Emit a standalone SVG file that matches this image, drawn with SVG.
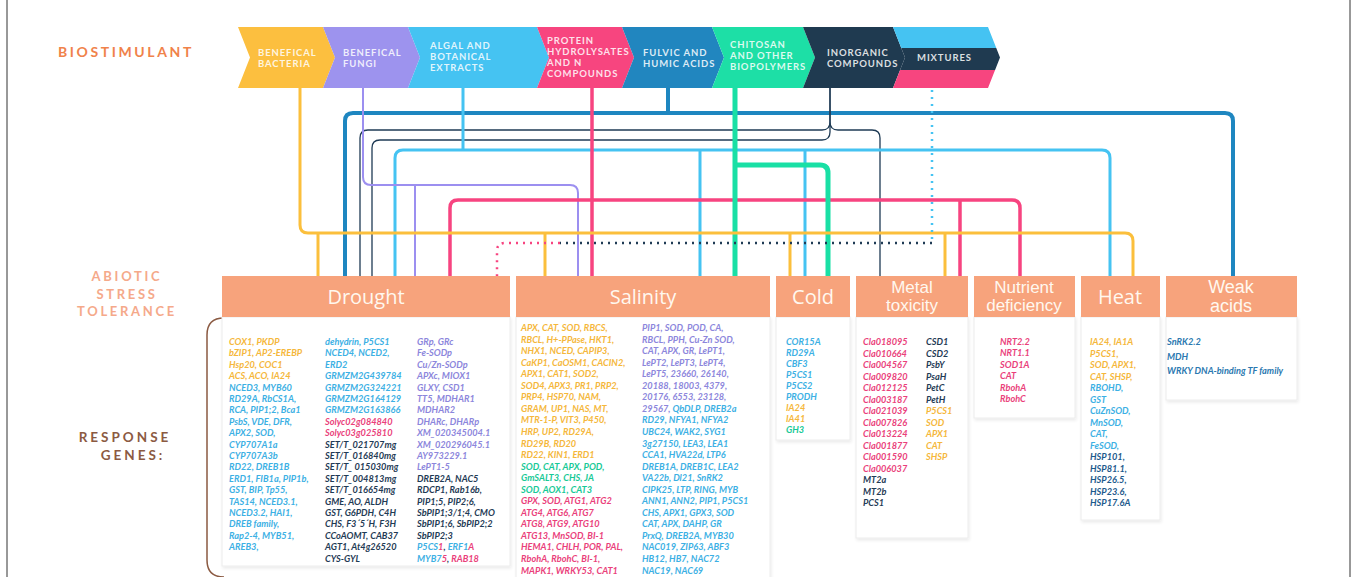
<svg xmlns="http://www.w3.org/2000/svg" width="1358" height="577" viewBox="0 0 1358 577">
<style>
.ban{font-family:Lato,"Open Sans",sans-serif;font-weight:700;font-size:9.5px;letter-spacing:0.9px;fill:#fff;fill-opacity:.85}
.hd{font-family:"Open Sans","Liberation Sans",sans-serif;font-size:20px;fill:#fff8ef;text-anchor:middle}
.hd2{font-family:"Liberation Sans",Arial,sans-serif;font-size:17px;fill:#fff8ef;text-anchor:middle}
.lab{font-family:Lato,"Open Sans",sans-serif;font-weight:700;letter-spacing:2.4px;text-anchor:middle}
.g{font-family:Lato,"Open Sans",sans-serif;font-weight:700;font-style:italic;font-size:9.2px}
.y{fill:#f5b73b}.lb{fill:#3cb0e4}.pk{fill:#ea3f7b}.nv{fill:#1f3b55}.pu{fill:#8c86dc}.tl{fill:#17c996}.db{fill:#1d5a8c}
.hbox{fill:#f7a37c}
.panel{fill:#fff;stroke:#ececec;stroke-width:1}
.c{fill:none;stroke-linecap:butt;stroke-linejoin:round}
</style>
<defs>
<clipPath id="mixclip"><polygon points="893,27 988,27 1000,57.5 988,88 893,88 905,57.5"/></clipPath>
<filter id="sh" x="-5%" y="-5%" width="110%" height="110%"><feDropShadow dx="1" dy="2" stdDeviation="1.5" flood-color="#000" flood-opacity="0.08"/></filter>
</defs>
<rect x="0" y="0" width="1358" height="577" fill="#fff"/>
<line x1="7" y1="0" x2="7" y2="577" stroke="#333" stroke-width="1"/>
<line x1="1350" y1="0" x2="1350" y2="577" stroke="#333" stroke-width="1"/>

<g id="biostimulant-label"><text x="58" y="57" class="lab" style="text-anchor:start;font-size:14px;letter-spacing:2.6px;fill:#f0824a">BIOSTIMULANT</text></g>
<g id="abiotic-label">
<text x="127" y="281" class="lab" style="font-size:13px;letter-spacing:2.7px;fill:#f5a98a">ABIOTIC</text>
<text x="127" y="299" class="lab" style="font-size:13px;letter-spacing:2.7px;fill:#f5a98a">STRESS</text>
<text x="127" y="316" class="lab" style="font-size:13px;letter-spacing:2.7px;fill:#f5a98a">TOLERANCE</text>
</g>
<g id="response-label">
<text x="125" y="442" class="lab" style="font-size:13.5px;letter-spacing:3px;fill:#8b5a42">RESPONSE</text>
<text x="133" y="460" class="lab" style="font-size:13.5px;letter-spacing:3px;fill:#8b5a42">GENES:</text>
<path d="M224,318 Q207,318 207,335 V560 Q207,577 224,577" fill="none" stroke="#8b5a42" stroke-width="1.5"/>
</g>

<g id="connectors">
<path class="c" stroke="#1e86c0" stroke-width="4" d="M668,88 V113 M345,276 V121 Q345,113 353,113 H1225 Q1233,113 1233,121 V276"/>
<path class="c" stroke="#1f3b55" stroke-width="1.3" d="M830,88 V122 Q830,130 822,130 H368 Q360,130 360,138 V276 M830,122 Q830,130 838,130 H872 Q880,130 880,138 V276"/>
<path class="c" stroke="#1f3b55" stroke-width="1.3" d="M830,88 V132 Q830,140 822,140 H380 Q372,140 372,148 V276"/>
<path class="c" stroke="#45c3f2" stroke-width="3" d="M463,88 V150 M395,276 V158 Q395,150 403,150 H1102 Q1110,150 1110,158 V276 M700,150 V276 M805,150 V276"/>
<path class="c" stroke="#9c8ff0" stroke-width="2" d="M363,88 V177 Q363,185 371,185 H570 Q578,185 578,193 V276 M415,185 V276"/>
<path class="c" stroke="#f74480" stroke-width="3.5" d="M592,88 V276 M450,276 V208 Q450,200 458,200 H1012 Q1020,200 1020,208 V276 M960,200 V276"/>
<path class="c" stroke="#19e0a5" stroke-width="5" d="M735,88 V276 M735,165 H820 Q828,165 828,173 V276"/>
<path class="c" stroke="#fbbf3c" stroke-width="3" d="M300,88 V225 Q300,233 308,233 H1125 Q1133,233 1133,241 V276 M318,233 V276 M545,233 V276 M790,233 V276 M945,233 V276"/>
<path class="c" stroke="#45c3f2" stroke-width="2.5" stroke-dasharray="2 5" d="M932,90 V243"/>
<path class="c" stroke="#1f3b55" stroke-width="2.5" stroke-dasharray="2 5" d="M932,243 H560"/>
<path class="c" stroke="#f74480" stroke-width="2.5" stroke-dasharray="2 5" d="M560,243 H505 Q497,243 497,251 V276"/>
</g>

<g id="banner">
<polygon points="238,27 323,27 335,57.5 323,88 238,88 250,57.5" fill="#fcbf3f"/>
<polygon points="323,27 408,27 420,57.5 408,88 323,88 335,57.5" fill="#9d93ee"/>
<polygon points="408,27 537,27 549,57.5 537,88 408,88 420,57.5" fill="#45c3f2"/>
<polygon points="537,27 622,27 634,57.5 622,88 537,88 549,57.5" fill="#f7457f"/>
<polygon points="622,27 712,27 724,57.5 712,88 622,88 634,57.5" fill="#2186bf"/>
<polygon points="712,27 803,27 815,57.5 803,88 712,88 724,57.5" fill="#1ddfa6"/>
<polygon points="803,27 893,27 905,57.5 893,88 803,88 815,57.5" fill="#1f3a50"/>
<g clip-path="url(#mixclip)">
<rect x="890" y="27" width="115" height="21" fill="#45c3f2"/>
<rect x="890" y="48" width="115" height="22" fill="#1f3a50"/>
<rect x="890" y="70" width="115" height="18" fill="#f7457f"/>
</g>
<text class="ban"><tspan x="258" y="56">BENEFICAL</tspan><tspan x="258" y="67">BACTERIA</tspan></text>
<text class="ban"><tspan x="343" y="56">BENEFICAL</tspan><tspan x="343" y="67">FUNGI</tspan></text>
<text class="ban"><tspan x="430" y="49">ALGAL AND</tspan><tspan x="430" y="60">BOTANICAL</tspan><tspan x="430" y="71">EXTRACTS</tspan></text>
<text class="ban"><tspan x="547" y="44">PROTEIN</tspan><tspan x="547" y="55">HYDROLYSATES</tspan><tspan x="547" y="66">AND N</tspan><tspan x="547" y="77">COMPOUNDS</tspan></text>
<text class="ban"><tspan x="643" y="56">FULVIC AND</tspan><tspan x="643" y="67">HUMIC ACIDS</tspan></text>
<text class="ban"><tspan x="730" y="48">CHITOSAN</tspan><tspan x="730" y="59">AND OTHER</tspan><tspan x="730" y="70">BIOPOLYMERS</tspan></text>
<text class="ban"><tspan x="827" y="56">INORGANIC</tspan><tspan x="827" y="67">COMPOUNDS</tspan></text>
<text class="ban"><tspan x="917" y="61">MIXTURES</tspan></text>
</g>

<g id="drought">
<rect class="panel" x="222" y="317" width="288" height="249" filter="url(#sh)"/>
<rect class="hbox" x="222" y="276" width="288" height="41"/>
<text class="hd" x="366" y="304">Drought</text>
<text class="g">
<tspan x="229" y="345" class="y">COX1, PKDP</tspan>
<tspan x="229" dy="11.4" class="y">bZIP1, AP2-EREBP</tspan>
<tspan x="229" dy="11.4" class="y">Hsp20, COC1</tspan>
<tspan x="229" dy="11.4" class="y">ACS, ACO, IA24</tspan>
<tspan x="229" dy="11.4" class="lb">NCED3, MYB60</tspan>
<tspan x="229" dy="11.4" class="lb">RD29A, RbCS1A,</tspan>
<tspan x="229" dy="11.4" class="lb">RCA, PIP1;2, Bca1</tspan>
<tspan x="229" dy="11.4" class="lb">PsbS, VDE, DFR,</tspan>
<tspan x="229" dy="11.4" class="lb">APX2, SOD,</tspan>
<tspan x="229" dy="11.4" class="lb">CYP707A1a</tspan>
<tspan x="229" dy="11.4" class="lb">CYP707A3b</tspan>
<tspan x="229" dy="11.4" class="lb">RD22, DREB1B</tspan>
<tspan x="229" dy="11.4" class="lb">ERD1, FIB1a, PIP1b,</tspan>
<tspan x="229" dy="11.4" class="lb">GST, BIP, Tp55,</tspan>
<tspan x="229" dy="11.4" class="lb">TAS14, NCED3.1,</tspan>
<tspan x="229" dy="11.4" class="lb">NCED3.2, HAI1,</tspan>
<tspan x="229" dy="11.4" class="lb">DREB family,</tspan>
<tspan x="229" dy="11.4" class="lb">Rap2-4, MYB51,</tspan>
<tspan x="229" dy="11.4" class="lb">AREB3,</tspan>
</text>
<text class="g">
<tspan x="325" y="345" class="lb">dehydrin, P5CS1</tspan>
<tspan x="325" dy="11.4" class="lb">NCED4, NCED2,</tspan>
<tspan x="325" dy="11.4" class="lb">ERD2</tspan>
<tspan x="325" dy="11.4" class="lb">GRMZM2G439784</tspan>
<tspan x="325" dy="11.4" class="lb">GRMZM2G324221</tspan>
<tspan x="325" dy="11.4" class="lb">GRMZM2G164129</tspan>
<tspan x="325" dy="11.4" class="lb">GRMZM2G163866</tspan>
<tspan x="325" dy="11.4" class="pk">Solyc02g084840</tspan>
<tspan x="325" dy="11.4" class="pk">Solyc03g025810</tspan>
<tspan x="325" dy="11.4" class="nv">SET/T_021707mg</tspan>
<tspan x="325" dy="11.4" class="nv">SET/T_016840mg</tspan>
<tspan x="325" dy="11.4" class="nv">SET/T_ 015030mg</tspan>
<tspan x="325" dy="11.4" class="nv">SET/T_004813mg</tspan>
<tspan x="325" dy="11.4" class="nv">SET/T_016654mg</tspan>
<tspan x="325" dy="11.4" class="nv">GME, AO, ALDH</tspan>
<tspan x="325" dy="11.4" class="nv">GST, G6PDH, C4H</tspan>
<tspan x="325" dy="11.4" class="nv">CHS, F3´5´H, F3H</tspan>
<tspan x="325" dy="11.4" class="nv">CCoAOMT, CAB37</tspan>
<tspan x="325" dy="11.4" class="nv">AGT1, At4g26520</tspan>
<tspan x="325" dy="11.4" class="nv">CYS-GYL</tspan>
</text>
<text class="g">
<tspan x="417" y="345" class="pu">GRp, GRc</tspan>
<tspan x="417" dy="11.4" class="pu">Fe-SODp</tspan>
<tspan x="417" dy="11.4" class="pu">Cu/Zn-SODp</tspan>
<tspan x="417" dy="11.4" class="pu">APXc, MIOX1</tspan>
<tspan x="417" dy="11.4" class="pu">GLXY, CSD1</tspan>
<tspan x="417" dy="11.4" class="pu">TT5, MDHAR1</tspan>
<tspan x="417" dy="11.4" class="pu">MDHAR2</tspan>
<tspan x="417" dy="11.4" class="pu">DHARc, DHARp</tspan>
<tspan x="417" dy="11.4" class="pu">XM_020345004.1</tspan>
<tspan x="417" dy="11.4" class="pu">XM_020296045.1</tspan>
<tspan x="417" dy="11.4" class="pu">AY973229.1</tspan>
<tspan x="417" dy="11.4" class="pu">LePT1-5</tspan>
<tspan x="417" dy="11.4" class="nv">DREB2A, NAC5</tspan>
<tspan x="417" dy="11.4" class="nv">RDCP1, Rab16b,</tspan>
<tspan x="417" dy="11.4" class="nv">PIP1;5, PIP2;6,</tspan>
<tspan x="417" dy="11.4" class="nv">SbPIP1;3/1;4, CMO</tspan>
<tspan x="417" dy="11.4" class="nv">SbPIP1;6, SbPIP2;2</tspan>
<tspan x="417" dy="11.4" class="nv">SbPIP2;3</tspan>
</text>
<text class="g" x="417" y="550.2"><tspan class="lb">P5CS</tspan><tspan class="pk">1</tspan><tspan class="nv">, </tspan><tspan class="lb">ERF1</tspan><tspan class="pk">A</tspan></text>
<text class="g" x="417" y="561.6"><tspan class="lb">MYB7</tspan><tspan class="pk">5</tspan><tspan class="nv">, </tspan><tspan class="pk">RAB18</tspan></text>
</g>

<g id="salinity">
<rect class="panel" x="516" y="317" width="254" height="265" filter="url(#sh)"/>
<rect class="hbox" x="516" y="276" width="254" height="41"/>
<text class="hd" x="643" y="304">Salinity</text>
<text class="g">
<tspan x="521" y="331" class="y">APX, CAT, SOD, RBCS,</tspan>
<tspan x="521" dy="11.55" class="y">RBCL, H+-PPase, HKT1,</tspan>
<tspan x="521" dy="11.55" class="y">NHX1, NCED, CAPIP3,</tspan>
<tspan x="521" dy="11.55" class="y">CaKP1, CaOSM1, CACIN2,</tspan>
<tspan x="521" dy="11.55" class="y">APX1, CAT1, SOD2,</tspan>
<tspan x="521" dy="11.55" class="y">SOD4, APX3, PR1, PRP2,</tspan>
<tspan x="521" dy="11.55" class="y">PRP4, HSP70, NAM,</tspan>
<tspan x="521" dy="11.55" class="y">GRAM, UP1, NAS, MT,</tspan>
<tspan x="521" dy="11.55" class="y">MTR-1-P, VIT3, P450,</tspan>
<tspan x="521" dy="11.55" class="y">HRP, UP2, RD29A,</tspan>
<tspan x="521" dy="11.55" class="y">RD29B, RD20</tspan>
<tspan x="521" dy="11.55" class="y">RD22, KIN1, ERD1</tspan>
<tspan x="521" dy="11.55" class="tl">SOD, CAT, APX, POD,</tspan>
<tspan x="521" dy="11.55" class="tl">GmSALT3, CHS, JA</tspan>
<tspan x="521" dy="11.55" class="tl">SOD, AOX1, CAT3</tspan>
<tspan x="521" dy="11.55" class="pk">GPX, SOD, ATG1, ATG2</tspan>
<tspan x="521" dy="11.55" class="pk">ATG4, ATG6, ATG7</tspan>
<tspan x="521" dy="11.55" class="pk">ATG8, ATG9, ATG10</tspan>
<tspan x="521" dy="11.55" class="pk">ATG13, MnSOD, BI-1</tspan>
<tspan x="521" dy="11.55" class="pk">HEMA1, CHLH, POR, PAL,</tspan>
<tspan x="521" dy="11.55" class="pk">RbohA, RbohC, BI-1,</tspan>
<tspan x="521" dy="11.55" class="pk">MAPK1, WRKY53, CAT1</tspan>
</text>
<text class="g">
<tspan x="642" y="331" class="pu">PIP1, SOD, POD, CA,</tspan>
<tspan x="642" dy="11.55" class="pu">RBCL, PPH, Cu-Zn SOD,</tspan>
<tspan x="642" dy="11.55" class="pu">CAT, APX, GR, LePT1,</tspan>
<tspan x="642" dy="11.55" class="pu">LePT2, LePT3, LePT4,</tspan>
<tspan x="642" dy="11.55" class="pu">LePT5, 23660, 26140,</tspan>
<tspan x="642" dy="11.55" class="pu">20188, 18003, 4379,</tspan>
<tspan x="642" dy="11.55" class="pu">20176, 6553, 23128,</tspan>
<tspan x="642" dy="11.55" class="pu">29567, <tspan class="lb">QbDLP, DREB2a</tspan></tspan>
<tspan x="642" dy="11.55" class="lb">RD29, NFYA1, NFYA2</tspan>
<tspan x="642" dy="11.55" class="lb">UBC24, WAK2, SYG1</tspan>
<tspan x="642" dy="11.55" class="lb">3g27150, LEA3, LEA1</tspan>
<tspan x="642" dy="11.55" class="lb">CCA1, HVA22d, LTP6</tspan>
<tspan x="642" dy="11.55" class="lb">DREB1A, DREB1C, LEA2</tspan>
<tspan x="642" dy="11.55" class="lb">VA22b, Dl21, SnRK2</tspan>
<tspan x="642" dy="11.55" class="lb">CIPK25, LTP, RING, MYB</tspan>
<tspan x="642" dy="11.55" class="lb">ANN1, ANN2, PIP1, P5CS1</tspan>
<tspan x="642" dy="11.55" class="lb">CHS, APX1, GPX3, SOD</tspan>
<tspan x="642" dy="11.55" class="lb">CAT, APX, DAHP, GR</tspan>
<tspan x="642" dy="11.55" class="lb">PrxQ, DREB2A, MYB30</tspan>
<tspan x="642" dy="11.55" class="lb">NAC019, ZIP63, ABF3</tspan>
<tspan x="642" dy="11.55" class="lb">HB12, HB7, NAC72</tspan>
<tspan x="642" dy="11.55" class="lb">NAC19, NAC69</tspan>
</text>
</g>

<g id="cold">
<rect class="panel" x="776" y="317" width="74" height="123" filter="url(#sh)"/>
<rect class="hbox" x="776" y="276" width="74" height="41"/>
<text class="hd" x="813" y="304">Cold</text>
<text class="g">
<tspan x="786" y="345" class="lb">COR15A</tspan>
<tspan x="786" dy="11" class="lb">RD29A</tspan>
<tspan x="786" dy="11" class="lb">CBF3</tspan>
<tspan x="786" dy="11" class="lb">P5CS1</tspan>
<tspan x="786" dy="11" class="lb">P5CS2</tspan>
<tspan x="786" dy="11" class="lb">PRODH</tspan>
<tspan x="786" dy="11" class="y">IA24</tspan>
<tspan x="786" dy="11" class="y">IA41</tspan>
<tspan x="786" dy="11" class="tl">GH3</tspan>
</text>
</g>

<g id="metal">
<rect class="panel" x="856" y="317" width="112" height="221" filter="url(#sh)"/>
<rect class="hbox" x="856" y="276" width="112" height="41"/>
<text class="hd2" x="912" y="293">Metal</text>
<text class="hd2" x="912" y="311">toxicity</text>
<text class="g">
<tspan x="863" y="345" class="pk">Cla018095</tspan>
<tspan x="863" dy="11.5" class="pk">Cla010664</tspan>
<tspan x="863" dy="11.5" class="pk">Cla004567</tspan>
<tspan x="863" dy="11.5" class="pk">Cla009820</tspan>
<tspan x="863" dy="11.5" class="pk">Cla012125</tspan>
<tspan x="863" dy="11.5" class="pk">Cla003187</tspan>
<tspan x="863" dy="11.5" class="pk">Cla021039</tspan>
<tspan x="863" dy="11.5" class="pk">Cla007826</tspan>
<tspan x="863" dy="11.5" class="pk">Cla013224</tspan>
<tspan x="863" dy="11.5" class="pk">Cla001877</tspan>
<tspan x="863" dy="11.5" class="pk">Cla001590</tspan>
<tspan x="863" dy="11.5" class="pk">Cla006037</tspan>
<tspan x="863" dy="11.5" class="nv">MT2a</tspan>
<tspan x="863" dy="11.5" class="nv">MT2b</tspan>
<tspan x="863" dy="11.5" class="nv">PCS1</tspan>
</text>
<text class="g">
<tspan x="926" y="345" class="nv">CSD1</tspan>
<tspan x="926" dy="11.5" class="nv">CSD2</tspan>
<tspan x="926" dy="11.5" class="nv">PsbY</tspan>
<tspan x="926" dy="11.5" class="nv">PsaH</tspan>
<tspan x="926" dy="11.5" class="nv">PetC</tspan>
<tspan x="926" dy="11.5" class="nv">PetH</tspan>
<tspan x="926" dy="11.5" class="y">P5CS1</tspan>
<tspan x="926" dy="11.5" class="y">SOD</tspan>
<tspan x="926" dy="11.5" class="y">APX1</tspan>
<tspan x="926" dy="11.5" class="y">CAT</tspan>
<tspan x="926" dy="11.5" class="y">SHSP</tspan>
</text>
</g>

<g id="nutrient">
<rect class="panel" x="974" y="317" width="101" height="101" filter="url(#sh)"/>
<rect class="hbox" x="974" y="276" width="101" height="41"/>
<text class="hd2" x="1024" y="293">Nutrient</text>
<text class="hd2" x="1024" y="311">deficiency</text>
<text class="g">
<tspan x="1000" y="345" class="pk">NRT2.2</tspan>
<tspan x="1000" dy="11.4" class="pk">NRT1.1</tspan>
<tspan x="1000" dy="11.4" class="pk">SOD1A</tspan>
<tspan x="1000" dy="11.4" class="pk">CAT</tspan>
<tspan x="1000" dy="11.4" class="pk">RbohA</tspan>
<tspan x="1000" dy="11.4" class="pk">RbohC</tspan>
</text>
</g>

<g id="heat">
<rect class="panel" x="1081" y="317" width="79" height="203" filter="url(#sh)"/>
<rect class="hbox" x="1081" y="276" width="79" height="41"/>
<text class="hd" x="1120" y="304">Heat</text>
<text class="g">
<tspan x="1090" y="345" class="y">IA24, IA1A</tspan>
<tspan x="1090" dy="11.5" class="y">P5CS1,</tspan>
<tspan x="1090" dy="11.5" class="y">SOD, APX1,</tspan>
<tspan x="1090" dy="11.5" class="y">CAT, SHSP,</tspan>
<tspan x="1090" dy="11.5" class="lb">RBOHD,</tspan>
<tspan x="1090" dy="11.5" class="lb">GST</tspan>
<tspan x="1090" dy="11.5" class="lb">CuZnSOD,</tspan>
<tspan x="1090" dy="11.5" class="lb">MnSOD,</tspan>
<tspan x="1090" dy="11.5" class="lb">CAT,</tspan>
<tspan x="1090" dy="11.5" class="lb">FeSOD,</tspan>
<tspan x="1090" dy="11.5" class="db">HSP101,</tspan>
<tspan x="1090" dy="11.5" class="db">HSP81.1,</tspan>
<tspan x="1090" dy="11.5" class="db">HSP26.5,</tspan>
<tspan x="1090" dy="11.5" class="db">HSP23.6,</tspan>
<tspan x="1090" dy="11.5" class="db">HSP17.6A</tspan>
</text>
</g>

<g id="weak-acids">
<rect class="panel" x="1166" y="317" width="131" height="83" filter="url(#sh)"/>
<rect class="hbox" x="1166" y="276" width="131" height="41"/>
<text class="hd2" x="1231" y="293" style="font-size:18px">Weak</text>
<text class="hd2" x="1231" y="312" style="font-size:18px">acids</text>
<text class="g">
<tspan x="1167" y="345" style="fill:#2a78b0">SnRK2.2</tspan>
<tspan x="1167" dy="14.5" style="fill:#2a78b0">MDH</tspan>
<tspan x="1167" dy="14.5" style="fill:#2a78b0">WRKY DNA-binding TF family</tspan>
</text>
</g>
</svg>
